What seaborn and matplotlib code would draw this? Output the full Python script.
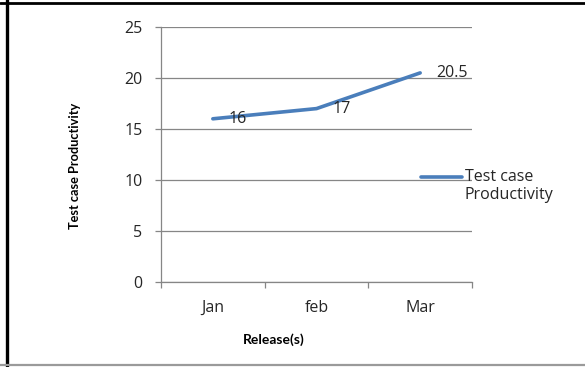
import matplotlib
matplotlib.use("Agg")
import matplotlib.pyplot as plt
from matplotlib.lines import Line2D
from matplotlib.legend_handler import HandlerLine2D
import seaborn as sns
import pandas as pd

# Data
releases = ["Jan", "feb", "Mar"]
productivity = [16, 17, 20.5]
series_name = "Test case\nProductivity"
y_ticks = [0, 5, 10, 15, 20, 25]

df = pd.DataFrame({"Release": releases, "Productivity": productivity})

sns.set_theme(style="white")
plt.rcParams["font.family"] = ["Open Sans", "DejaVu Sans"]

FS = 11.5
line_color = "#4A7EBB"
axis_gray = "#868686"
text_color = "#262626"


class FirstLineHandler(HandlerLine2D):
    """Place the legend line next to the first line of a two-line label."""

    def create_artists(self, legend, orig_handle, xdescent, ydescent,
                       width, height, fontsize, trans):
        artists = super().create_artists(legend, orig_handle, xdescent, ydescent,
                                         width, height, fontsize, trans)
        shift = fontsize * 0.58
        for a in artists:
            ys = a.get_ydata()
            a.set_ydata([y + shift for y in ys])
        return artists


fig = plt.figure(figsize=(5.85, 3.67), dpi=100)
ax = fig.add_axes([161 / 585, 1 - 282 / 367, 311 / 585, 255 / 367])

sns.lineplot(data=df, x="Release", y="Productivity", ax=ax, color=line_color,
             linewidth=2.6, sort=False, legend=False)

# Value labels to the right of each point
for i, v in enumerate(productivity):
    ax.annotate(f"{v:g}", (i, v), xytext=(11.5, 0), textcoords="offset points",
                va="center", ha="left", fontsize=FS, color=text_color)

ax.set_xlim(-0.5, len(releases) - 0.5)
ax.set_ylim(0, 25)
ax.set_yticks(y_ticks)
ax.set_yticklabels([str(t) for t in y_ticks], fontsize=FS, color=text_color)
ax.set_xticks(range(len(releases)))
ax.set_xticklabels(releases, fontsize=FS, color=text_color)
ax.set_xticks([i - 0.5 for i in range(len(releases) + 1)], minor=True)
ax.tick_params(axis="x", which="major", length=0, pad=13)
ax.tick_params(axis="x", which="minor", length=4.3, width=0.9, color=axis_gray,
               direction="out", bottom=True)
ax.tick_params(axis="y", which="major", length=4.3, width=0.9, color=axis_gray,
               direction="out", left=True, pad=9)

ax.grid(axis="y", color=axis_gray, linewidth=0.9)
ax.grid(axis="x", visible=False)
ax.set_axisbelow(True)
for side in ["top", "right"]:
    ax.spines[side].set_visible(False)
for side in ["left", "bottom"]:
    ax.spines[side].set_color(axis_gray)
    ax.spines[side].set_linewidth(0.9)

ax.set_xlabel("Release(s)", fontsize=10, fontweight="bold", color="black",
              family=["Lato", "DejaVu Sans"])
ax.xaxis.set_label_coords(0.362, -0.2)
ax.set_ylabel("Test case Productivity", fontsize=9.2, fontweight="bold", color="black",
              family=["Lato", "DejaVu Sans"])
ax.yaxis.set_label_coords(-0.258, 0.455)

handles = [Line2D([0], [0], color=line_color, linewidth=2.6)]
fig.legend(handles, [series_name], loc="center left",
           bbox_to_anchor=(421 / 585, 1 - 186 / 367), frameon=False,
           fontsize=FS, handlelength=2.55, handletextpad=0.2, borderpad=0,
           borderaxespad=0, labelcolor=text_color,
           handler_map={Line2D: FirstLineHandler()})

# Outer frame
fig.add_artist(Line2D([6.5 / 585, 6.5 / 585], [0, 1], transform=fig.transFigure,
                      color="black", linewidth=2.4))
fig.add_artist(Line2D([0, 1], [1 - 3 / 367, 1 - 3 / 367], transform=fig.transFigure,
                      color="black", linewidth=2.0))
fig.add_artist(Line2D([0, 1], [1 - 365 / 367, 1 - 365 / 367], transform=fig.transFigure,
                      color="#9a9a9a", linewidth=1.6))

fig.savefig("out.png", dpi=100, facecolor="white")
